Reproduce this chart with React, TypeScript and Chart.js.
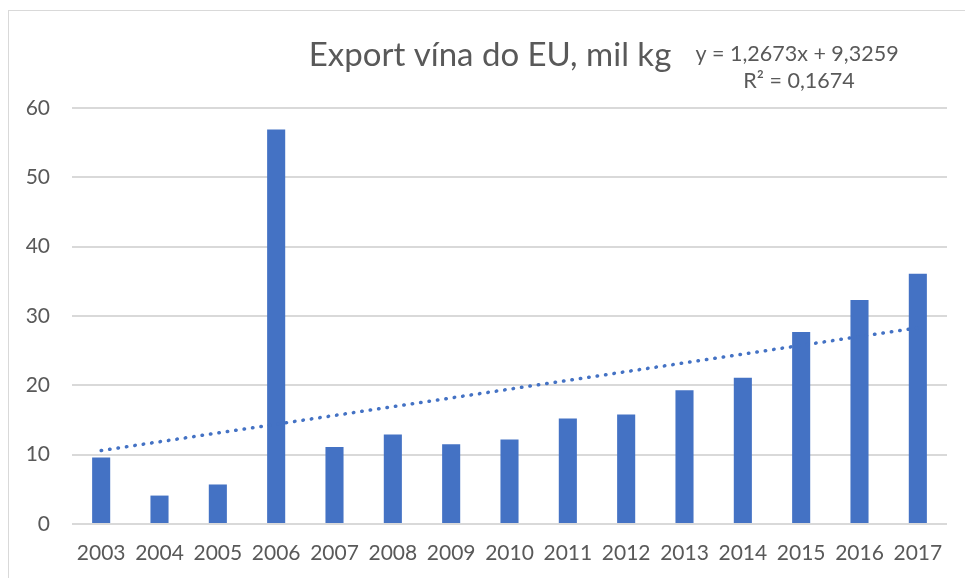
import React, { useEffect, useRef } from "react";
import { Chart, registerables } from "chart.js";

Chart.register(...registerables);

const years = ["2003", "2004", "2005", "2006", "2007", "2008", "2009", "2010", "2011", "2012", "2013", "2014", "2015", "2016", "2017"];
const exportValues = [9.6, 4.1, 5.7, 56.9, 11.1, 12.9, 11.5, 12.2, 15.2, 15.8, 19.3, 21.1, 27.7, 32.3, 36.1];
const trendValues: (number | null)[] = [10.6, null, null, null, null, null, null, null, null, null, null, null, null, null, 28.3];
const yMin = 0;
const yMax = 60;
const yStep = 10;
const titleText = "Export vína do EU, mil kg";
const equationLines = ["y = 1,2673x + 9,3259", "R² = 0,1674"];

const FONT = "Lato";
const TEXT = "#595959";
const BLUE = "#4472C4";
const GRID = "#d9d9d9";

const textPlugin = {
  id: "textPlugin",
  afterDraw(chart: any) {
    const ctx = chart.ctx;
    ctx.save();
    ctx.fillStyle = TEXT;
    ctx.textBaseline = "middle";
    ctx.textAlign = "center";
    ctx.font = `33px ${FONT}`;
    ctx.fillText(titleText, 481, 44);
    ctx.font = `21.5px ${FONT}`;
    ctx.fillText(equationLines[0], 788, 43);
    ctx.fillText(equationLines[1], 790, 70);
    ctx.restore();
  },
};

export default function App() {
  const ref = useRef<HTMLCanvasElement | null>(null);
  useEffect(() => {
    if (!ref.current) return;
    const chart = new Chart(ref.current, {
      type: "bar",
      data: {
        labels: years,
        datasets: [
          {
            type: "line",
            data: trendValues,
            borderColor: BLUE,
            borderWidth: 3.5,
            borderDash: [0.5, 8],
            borderCapStyle: "round",
            pointRadius: 0,
            spanGaps: true,
            fill: false,
            order: 0,
          } as any,
          {
            type: "bar",
            data: exportValues,
            backgroundColor: BLUE,
            barPercentage: 0.31,
            categoryPercentage: 1,
            order: 1,
          },
        ],
      },
      options: {
        animation: false,
        responsive: false,
        maintainAspectRatio: false,
        layout: { padding: { top: 97, right: 18, left: 0, bottom: 0 } },
        plugins: { legend: { display: false }, tooltip: { enabled: false }, title: { display: false } },
        scales: {
          x: {
            grid: { display: false, drawTicks: false },
            border: { display: false },
            ticks: { color: TEXT, font: { family: FONT, size: 21 }, padding: 17, maxRotation: 0, autoSkip: false },
            afterFit(scale: any) { scale.height = 54; },
          },
          y: {
            min: yMin,
            max: yMax,
            grid: { color: GRID, lineWidth: 2, drawTicks: false },
            border: { display: false },
            ticks: { stepSize: yStep, color: TEXT, font: { family: FONT, size: 21 }, padding: 22 },
            afterFit(scale: any) { scale.width = 63; },
          },
        },
      },
      plugins: [textPlugin],
    });
    return () => chart.destroy();
  }, []);
  return (
    <div
      style={{
        position: "fixed",
        left: 8,
        top: 10,
        width: 970,
        height: 580,
        borderLeft: "1px solid #d9d9d9",
        borderTop: "1px solid #d9d9d9",
        background: "#fff",
      }}
    >
      <canvas ref={ref} width={956} height={567} style={{ display: "block", width: 956, height: 567 }} />
    </div>
  );
}
